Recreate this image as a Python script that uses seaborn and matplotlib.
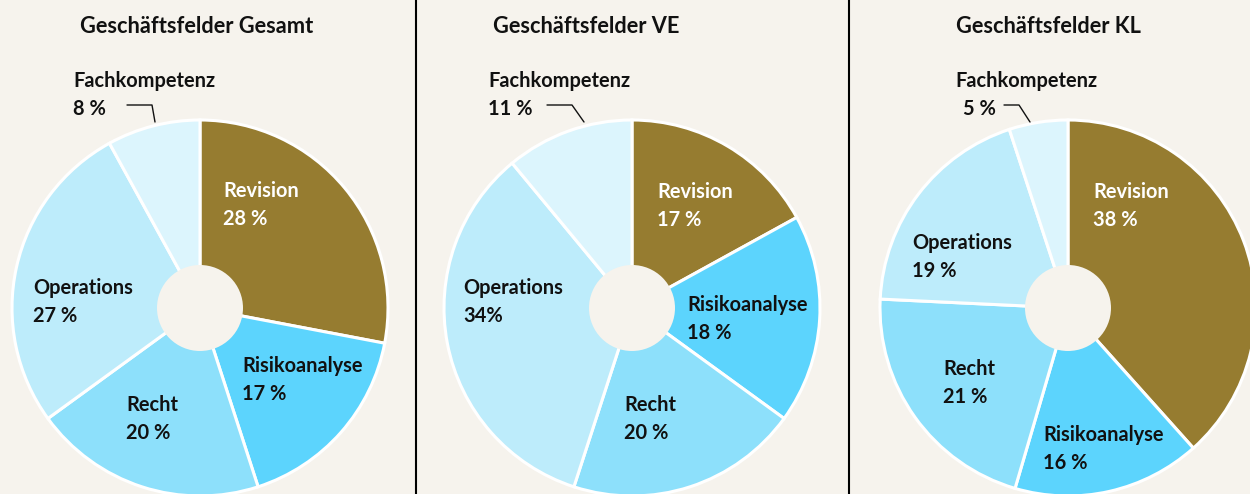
import matplotlib
matplotlib.use("Agg")
import matplotlib.pyplot as plt
import seaborn as sns
from matplotlib.patches import Circle

sns.set_theme(style="white")
plt.rcParams["font.family"] = ["Lato", "DejaVu Sans"]

# ---- data ----
categories = ["Revision", "Risikoanalyse", "Recht", "Operations", "Fachkompetenz"]
titles = ["Geschäftsfelder Gesamt", "Geschäftsfelder VE", "Geschäftsfelder KL"]
values_gesamt = [28, 17, 20, 27, 8]
values_ve = [17, 18, 20, 34, 11]
values_kl = [38, 16, 21, 19, 5]
pct_gesamt = ["28 %", "17 %", "20 %", "27 %", "8 %"]
pct_ve = ["17 %", "18 %", "20 %", "34%", "11 %"]
pct_kl = ["38 %", "16 %", "21 %", "19 %", "5 %"]

colors = ["#967c30", "#5cd4fd", "#8de0fb", "#bdecfb", "#dcf5fd"]
bg = "#f6f3ed"

# ---- layout (pixel coordinates, y downward) ----
W, H = 1250, 494
centers = [(200, 308), (632, 308), (1068, 308)]
radius = 188
hole_r = 43
title_x = [196.5, 586, 1048.5]
title_y = 33
# label (x, baseline of first line) per slice, per panel
label_pos = [
    [(223, 197), (242, 372), (126, 411), (33, 294), (73, 87)],
    [(657, 198), (687, 311), (624, 411), (463, 294), (488, 87)],
    [(1093, 198), (1043, 441), (943, 375), (912, 249), (955, 87)],
]
pct_x_offset = [[0, 0, 0, 0, 0], [0, 0, 0, 0, 0], [0, 0, 0, 0, 8]]
leaders = [
    [(127, 105), (152, 105), (155, 122)],
    [(547, 105), (572, 105), (584, 122)],
    [(1004, 105), (1019, 105), (1030, 122)],
]
separators = [415.5, 848.5]

fig = plt.figure(figsize=(W / 100, H / 100), dpi=100, facecolor=bg)
ax = fig.add_axes([0, 0, 1, 1])
ax.set_facecolor(bg)

all_values = [values_gesamt, values_ve, values_kl]
all_pcts = [pct_gesamt, pct_ve, pct_kl]

for i in range(3):
    ax.pie(all_values[i], colors=colors, center=centers[i], radius=radius,
           startangle=-90, counterclock=True, frame=True,
           wedgeprops=dict(edgecolor="white", linewidth=2.2))
    ax.add_patch(Circle(centers[i], hole_r, facecolor=bg, edgecolor="none", zorder=5))
    ax.text(title_x[i], title_y, titles[i], ha="center", va="baseline",
            fontsize=15.7, fontweight="bold", color="#111111")
    for j, cat in enumerate(categories):
        x, y = label_pos[i][j]
        c = "white" if j == 0 else "#111111"
        ax.text(x, y, cat, ha="left", va="baseline", fontsize=14.4,
                fontweight="bold", color=c, zorder=6)
        ax.text(x + pct_x_offset[i][j], y + 28, all_pcts[i][j], ha="left",
                va="baseline", fontsize=14.4, fontweight="bold", color=c, zorder=6)
    lx = [p[0] for p in leaders[i]]
    ly = [p[1] for p in leaders[i]]
    ax.plot(lx, ly, color="#111111", linewidth=1.0, zorder=6)

for sx in separators:
    ax.plot([sx, sx], [0, H], color="black", linewidth=1.5, zorder=7)

ax.set_xlim(0, W)
ax.set_ylim(H, 0)
ax.set_aspect("auto")
ax.axis("off")

fig.savefig("out.png", dpi=100, facecolor=bg)
